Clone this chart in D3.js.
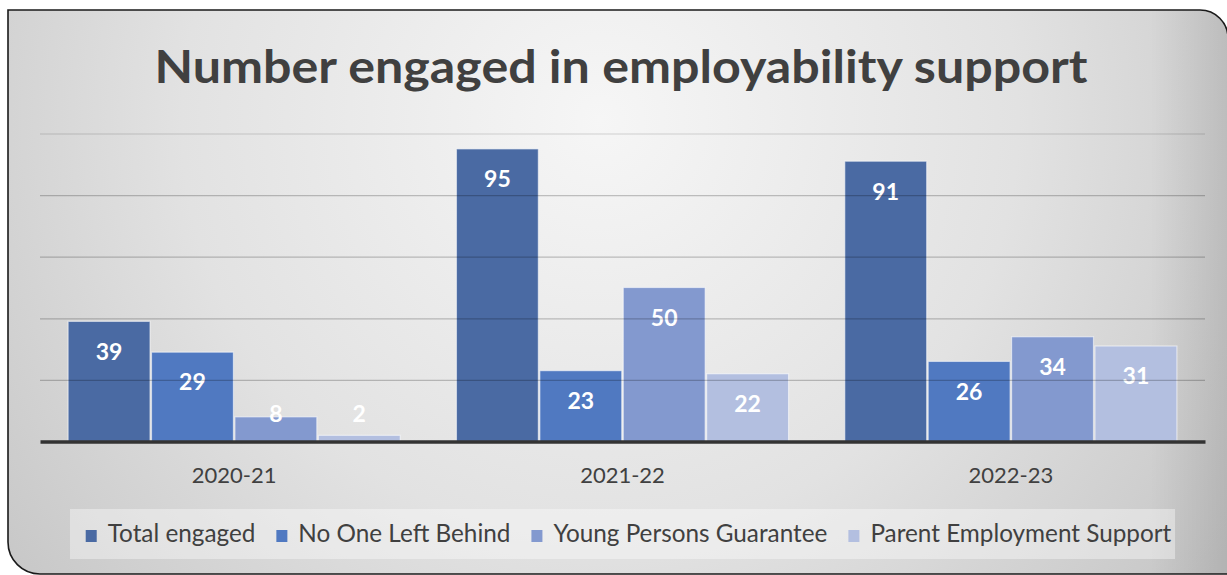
<!DOCTYPE html>
<html>
<head>
<meta charset="utf-8">
<script src="https://cdn.jsdelivr.net/npm/d3@7/dist/d3.min.js"></script>
<style>
  html, body { margin: 0; padding: 0; background: #ffffff; }
  svg { display: block; }
</style>
</head>
<body>
<svg id="chart" width="1227" height="575"></svg>
<script>
const title = "Number engaged in employability support";
const categories = ["2020-21", "2021-22", "2022-23"];
const seriesNames = ["Total engaged", "No One Left Behind", "Young Persons Guarantee", "Parent Employment Support"];
const totalEngaged = [39, 95, 91];
const noOneLeftBehind = [29, 23, 26];
const youngPersonsGuarantee = [8, 50, 34];
const parentEmploymentSupport = [2, 22, 31];
const yTicks = [0, 20, 40, 60, 80, 100];
const seriesColors = ["#4a6aa3", "#5079c1", "#8399cf", "#b3bfe0"];

const seriesValues = [totalEngaged, noOneLeftBehind, youngPersonsGuarantee, parentEmploymentSupport];
const rows = categories.map((c, i) => ({
  category: c,
  values: seriesNames.map((s, j) => ({ series: s, value: seriesValues[j][i], idx: j }))
}));

const svg = d3.select("#chart");
const W = 1227, H = 575;
const defs = svg.append("defs");

// background gradient
const rg = defs.append("radialGradient").attr("id", "bg")
  .attr("gradientUnits", "userSpaceOnUse")
  .attr("cx", 600).attr("cy", 120).attr("r", 760).attr("fx", 600).attr("fy", 120);
rg.append("stop").attr("offset", "0").attr("stop-color", "#f6f6f6");
rg.append("stop").attr("offset", "0.55").attr("stop-color", "#e2e2e2");
rg.append("stop").attr("offset", "1").attr("stop-color", "#c6c6c6");

const sh = defs.append("linearGradient").attr("id", "shade")
  .attr("x1", 0).attr("x2", 1).attr("y1", 0).attr("y2", 0);
sh.append("stop").attr("offset", "0").attr("stop-color", "#000").attr("stop-opacity", 0);
sh.append("stop").attr("offset", "1").attr("stop-color", "#000").attr("stop-opacity", 0.1);

// frame
const L = 8, T = 10, R = 1228, B = 574, rTR = 28, rBL = 32;
const framePath = `M${L},${T} H${R - rTR} A${rTR},${rTR} 0 0 1 ${R},${T + rTR} V${B} H${L + rBL} A${rBL},${rBL} 0 0 1 ${L},${B - rBL} Z`;
defs.append("clipPath").attr("id", "frameClip").append("path").attr("d", framePath);

svg.append("path").attr("d", framePath).attr("fill", "url(#bg)");
svg.append("rect").attr("x", 1150).attr("y", 0).attr("width", 80).attr("height", H)
  .attr("fill", "url(#shade)").attr("clip-path", "url(#frameClip)");

// scales
const x0 = d3.scaleBand().domain(categories).range([40, 1205]).paddingInner(0).paddingOuter(0);
const x1 = d3.scaleBand().domain(seriesNames).range([0, x0.bandwidth()]).paddingInner(0.018).paddingOuter(0.337);
const y = d3.scaleLinear().domain([0, 100]).range([441.5, 133.5]);

// title
svg.append("text")
  .attr("x", 621).attr("y", 83)
  .attr("text-anchor", "middle")
  .attr("font-family", "Lato, 'Open Sans', sans-serif")
  .attr("font-weight", 700)
  .attr("font-size", 45)
  .attr("fill", "#404040")
  .attr("textLength", 933)
  .attr("lengthAdjust", "spacingAndGlyphs")
  .text(title);

// bars
const groups = svg.append("g").selectAll("g").data(rows).join("g")
  .attr("transform", d => `translate(${x0(d.category)},0)`);

groups.selectAll("rect").data(d => d.values).join("rect")
  .attr("x", d => x1(d.series))
  .attr("y", d => y(d.value))
  .attr("width", x1.bandwidth())
  .attr("height", d => y(0) - y(d.value))
  .attr("fill", d => seriesColors[d.idx])
  .attr("stroke", "rgba(255,255,255,0.55)")
  .attr("stroke-width", 1.2);

// gridlines (drawn over bars, semi-transparent)
const yAxis = d3.axisLeft(y).tickValues(yTicks.filter(t => t > 0)).tickSize(-(1205 - 40)).tickFormat("");
const ga = svg.append("g").attr("transform", "translate(40,0)").call(yAxis);
ga.select(".domain").remove();
ga.selectAll(".tick line")
  .attr("stroke", "#000")
  .attr("stroke-opacity", d => d === 100 ? 0.1 : 0.22)
  .attr("stroke-width", 1.3);

// baseline / category axis
const xAxis = d3.axisBottom(x0).tickSize(0).tickPadding(0);
const gx = svg.append("g").attr("transform", `translate(0,${y(0)})`).call(xAxis);
gx.select(".domain").attr("stroke", "#333").attr("stroke-width", 3.5);
gx.selectAll(".tick text")
  .attr("y", 41)
  .attr("dy", 0)
  .attr("font-family", "Lato, 'Open Sans', sans-serif")
  .attr("font-size", 22)
  .attr("fill", "#404040");

// data labels
groups.selectAll("text.lbl").data(d => d.values).join("text")
  .attr("class", "lbl")
  .attr("x", d => x1(d.series) + x1.bandwidth() / 2)
  .attr("y", d => Math.min(y(d.value) + 30, y(0) - 28))
  .attr("dy", "0.36em")
  .attr("text-anchor", "middle")
  .attr("font-family", "Lato, 'Open Sans', sans-serif")
  .attr("font-weight", 700)
  .attr("font-size", 23)
  .attr("fill", "#ffffff")
  .text(d => d.value);

// legend
svg.append("rect").attr("x", 70).attr("y", 509).attr("width", 1105).attr("height", 50)
  .attr("fill", "#ffffff").attr("fill-opacity", 0.38);

const lg = svg.append("g");
const items = lg.selectAll("g").data(seriesNames).join("g");
items.append("rect")
  .attr("width", 11).attr("height", 12).attr("y", 530)
  .attr("fill", (d, i) => seriesColors[i]);
items.append("text")
  .attr("y", 542)
  .attr("font-family", "Lato, 'Open Sans', sans-serif")
  .attr("font-size", 24.3)
  .attr("fill", "#404040")
  .text(d => d);

let cx = 0;
const pos = [];
items.each(function () {
  const tw = d3.select(this).select("text").node().getComputedTextLength();
  pos.push(cx);
  cx += 11 + 11 + tw + 21;
});
const totalW = cx - 21;
const startX = 628.5 - totalW / 2;
items.each(function (d, i) {
  const g = d3.select(this);
  g.select("rect").attr("x", startX + pos[i]);
  g.select("text").attr("x", startX + pos[i] + 22);
});

// frame border
svg.append("path").attr("d", framePath).attr("fill", "none").attr("stroke", "#1a1a1a").attr("stroke-width", 1.6);
</script>
</body>
</html>
